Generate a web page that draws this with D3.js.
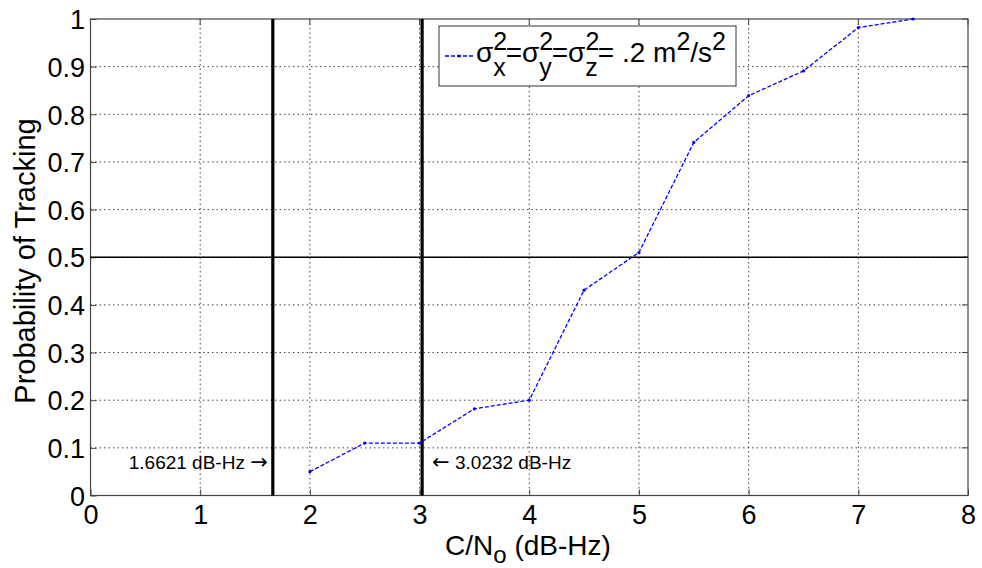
<!DOCTYPE html>
<html><head><meta charset="utf-8">
<script src="https://cdn.jsdelivr.net/npm/d3@7"></script>
<style>body{margin:0;background:#fff;}svg{display:block;font-family:"Liberation Sans",Arial,sans-serif;}</style>
</head><body><svg id="c" width="982" height="568"></svg>
<script>
const cn0 = [2, 2.5, 3, 3.5, 4, 4.5, 5, 5.5, 6, 6.5, 7, 7.5];
const prob = [0.05, 0.11, 0.11, 0.182, 0.2, 0.431, 0.51, 0.741, 0.839, 0.891, 0.982, 1.0];
const xTicks = [0,1,2,3,4,5,6,7,8];
const yTicks = [0,0.1,0.2,0.3,0.4,0.5,0.6,0.7,0.8,0.9,1];
const thresholds = [1.6621, 3.0232];
const thresholdTexts = ["1.6621 dB-Hz", "3.0232 dB-Hz"];
const hLine = 0.5;

const svg = d3.select("#c");
const L=90.5, R=968, T=19, B=495.5;
const x = d3.scaleLinear().domain([0,8]).range([L,R]);
const y = d3.scaleLinear().domain([0,1]).range([B,T]);

// grid
const g = svg.append("g");
g.selectAll(".gx").data(xTicks.slice(1,-1)).join("line")
 .attr("x1",d=>x(d)).attr("x2",d=>x(d)).attr("y1",T).attr("y2",B)
 .attr("stroke","#444").attr("stroke-width",1).attr("stroke-dasharray","1.5,3");
g.selectAll(".gy").data(yTicks.slice(1,-1)).join("line")
 .attr("y1",d=>y(d)).attr("y2",d=>y(d)).attr("x1",L).attr("x2",R)
 .attr("stroke","#444").attr("stroke-width",1).attr("stroke-dasharray","1.5,3");

// axes
const xa = svg.append("g").attr("transform",`translate(0,${B})`)
 .call(d3.axisBottom(x).tickValues(xTicks).tickSize(-6).tickPadding(14).tickFormat(d3.format("d")));
const ya = svg.append("g").attr("transform",`translate(${L},0)`)
 .call(d3.axisLeft(y).tickValues(yTicks).tickSize(-6).tickPadding(5.5).tickFormat(d=>d===0?"0":d===1?"1":d3.format(".1f")(d)));
[xa,ya].forEach(a=>{a.select(".domain").remove();a.selectAll("line").attr("stroke","#444");
 a.selectAll("text").attr("font-size",27).attr("fill","#000").attr("font-family","Liberation Sans, Arial, sans-serif");});
xa.selectAll("text").attr("y",28.5).attr("dy",0);
ya.selectAll("text").attr("dy","0.36em");
// top/right ticks
svg.append("g").selectAll("line").data(xTicks).join("line").attr("x1",d=>x(d)).attr("x2",d=>x(d)).attr("y1",T).attr("y2",T+6).attr("stroke","#444");
svg.append("g").selectAll("line").data(yTicks).join("line").attr("y1",d=>y(d)).attr("y2",d=>y(d)).attr("x1",R).attr("x2",R-6).attr("stroke","#444");
svg.append("rect").attr("x",L).attr("y",T).attr("width",R-L).attr("height",B-T).attr("fill","none").attr("stroke","#444").attr("stroke-width",1.2);

// horizontal 0.5 line
svg.append("line").attr("x1",L).attr("x2",R).attr("y1",y(hLine)).attr("y2",y(hLine)).attr("stroke","#000").attr("stroke-width",1.6);
// threshold lines
svg.selectAll(".th").data(thresholds).join("line")
 .attr("x1",d=>x(d)).attr("x2",d=>x(d)).attr("y1",T).attr("y2",B).attr("stroke","#000").attr("stroke-width",3.2);
const a1 = svg.append("text").attr("x",x(thresholds[0])-5).attr("y",468.5).attr("text-anchor","end").attr("font-size",19);
a1.append("tspan").text(thresholdTexts[0]+" ");
a1.append("tspan").text("\u2192").attr("font-family","DejaVu Sans").attr("font-size",21);
const a2 = svg.append("text").attr("x",x(thresholds[1])+10).attr("y",468.5).attr("text-anchor","start").attr("font-size",19);
a2.append("tspan").text("\u2190").attr("font-family","DejaVu Sans").attr("font-size",21);
a2.append("tspan").text(" "+thresholdTexts[1]);

// data line
const pts = cn0.map((c,i)=>[c,prob[i]]);
svg.append("path").datum(pts).attr("d",d3.line().x(d=>x(d[0])).y(d=>y(d[1])))
 .attr("fill","none").attr("stroke","#0000ff").attr("stroke-width",1.3).attr("stroke-dasharray","4,2");
svg.selectAll(".pt").data(pts).join("circle").attr("cx",d=>x(d[0])).attr("cy",d=>y(d[1])).attr("r",1.6).attr("fill","#0000ff");

// legend
svg.append("rect").attr("x",439).attr("y",26).attr("width",297).attr("height",60).attr("fill","#fff").attr("stroke","#333").attr("stroke-width",1);
svg.append("line").attr("x1",445).attr("x2",473).attr("y1",56).attr("y2",56).attr("stroke","#0000ff").attr("stroke-width",1.3).attr("stroke-dasharray","4,2");
svg.append("circle").attr("cx",459).attr("cy",56).attr("r",1.6).attr("fill","#0000ff");
const lt = svg.append("text").attr("x",476).attr("y",62).attr("font-size",28);
const parts = [["σ",0],["2",-1],["x",2],["=σ",0],["2",-1],["y",2],["=σ",0],["2",-1],["z",2],["= .2 m",0],["2",-1],["/s",0],["2",-1]];
let prev=0;
parts.forEach(([t,s],i)=>{
  const sp = lt.append("tspan").text(t);
  if(s===-1){ sp.attr("dy",-12-prev).attr("font-size",25); prev=-12; }
  else if(s===2){ sp.attr("dy",14-prev).attr("font-size",25).attr("dx",-14); prev=14; }
  else { sp.attr("dy",-prev); prev=0; }
});

// axis labels
const xl = svg.append("text").attr("x",528).attr("y",555).attr("text-anchor","middle").attr("font-size",28);
xl.append("tspan").text("C/N");
xl.append("tspan").text("o").attr("dy",8).attr("font-size",24);
xl.append("tspan").text(" (dB-Hz)").attr("dy",-8);
svg.append("text").attr("transform","translate(35,261) rotate(-90)").attr("text-anchor","middle").attr("font-size",29).text("Probability of Tracking");
</script></body></html>
